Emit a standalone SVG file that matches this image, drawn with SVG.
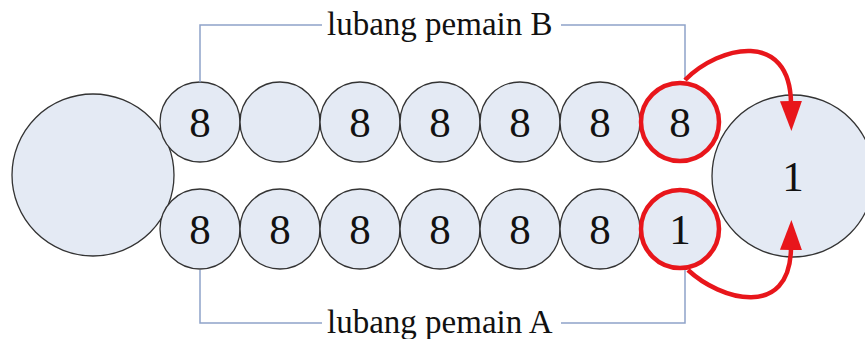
<svg xmlns="http://www.w3.org/2000/svg" width="865" height="339" viewBox="0 0 865 339">
<style>
.pit{fill:#e4eaf4;stroke:#333;stroke-width:1.3}
.sel{fill:#e4eaf4;stroke:#e8161b;stroke-width:4.5}
.num{font-family:'Liberation Serif','Times New Roman',serif;font-size:43px;fill:#111;text-anchor:middle}
.lbl{font-family:'Liberation Serif','Times New Roman',serif;font-size:33px;fill:#111}
.br{fill:none;stroke:#8fa3c9;stroke-width:1.5}
.arr{fill:none;stroke:#e8161b;stroke-width:4.5}
</style>
<defs>
<marker id="ah" markerUnits="userSpaceOnUse" markerWidth="32" markerHeight="24" refX="2" refY="12" orient="auto" viewBox="0 0 32 24">
<path d="M0,1 L30,12 L0,23 Z" fill="#e8161b"/>
</marker>
</defs>
<g id="store-left"><circle class="pit" cx="93" cy="175" r="81"/></g>
<g id="store-right"><circle class="pit" cx="793" cy="176" r="81"/><text class="num" x="793" y="191">1</text></g>
<g id="b1"><circle class="pit" cx="200" cy="122" r="40"/><text class="num" x="200" y="137">8</text></g>
<g id="b2"><circle class="pit" cx="280" cy="122" r="40"/></g>
<g id="b3"><circle class="pit" cx="360" cy="122" r="40"/><text class="num" x="360" y="137">8</text></g>
<g id="b4"><circle class="pit" cx="440" cy="122" r="40"/><text class="num" x="440" y="137">8</text></g>
<g id="b5"><circle class="pit" cx="520" cy="122" r="40"/><text class="num" x="520" y="137">8</text></g>
<g id="b6"><circle class="pit" cx="600" cy="122" r="40"/><text class="num" x="600" y="137">8</text></g>
<g id="b7"><circle class="sel" cx="680" cy="122" r="39"/><text class="num" x="680" y="137">8</text></g>
<g id="a1"><circle class="pit" cx="200" cy="229" r="40"/><text class="num" x="200" y="244">8</text></g>
<g id="a2"><circle class="pit" cx="280" cy="229" r="40"/><text class="num" x="280" y="244">8</text></g>
<g id="a3"><circle class="pit" cx="360" cy="229" r="40"/><text class="num" x="360" y="244">8</text></g>
<g id="a4"><circle class="pit" cx="440" cy="229" r="40"/><text class="num" x="440" y="244">8</text></g>
<g id="a5"><circle class="pit" cx="520" cy="229" r="40"/><text class="num" x="520" y="244">8</text></g>
<g id="a6"><circle class="pit" cx="600" cy="229" r="40"/><text class="num" x="600" y="244">8</text></g>
<g id="a7"><circle class="sel" cx="680" cy="229" r="39"/><text class="num" x="680" y="244">1</text></g>
<g id="label-b"><text class="lbl" x="327" y="35">lubang pemain B</text></g>
<g id="label-a"><text class="lbl" x="327" y="333">lubang pemain A</text></g>
<g id="connectors">
<path class="br" d="M200,82 V25 H322"/>
<path class="br" d="M561,25 H685 V80"/>
<path class="br" d="M200,270 V323 H322"/>
<path class="br" d="M561,323 H685 V270"/>
<path class="arr" d="M685,80 C720,45 790,30 791,103" marker-end="url(#ah)"/>
<path class="arr" d="M688,270 C720,300 790,320 791,248" marker-end="url(#ah)"/>
</g>
</svg>
